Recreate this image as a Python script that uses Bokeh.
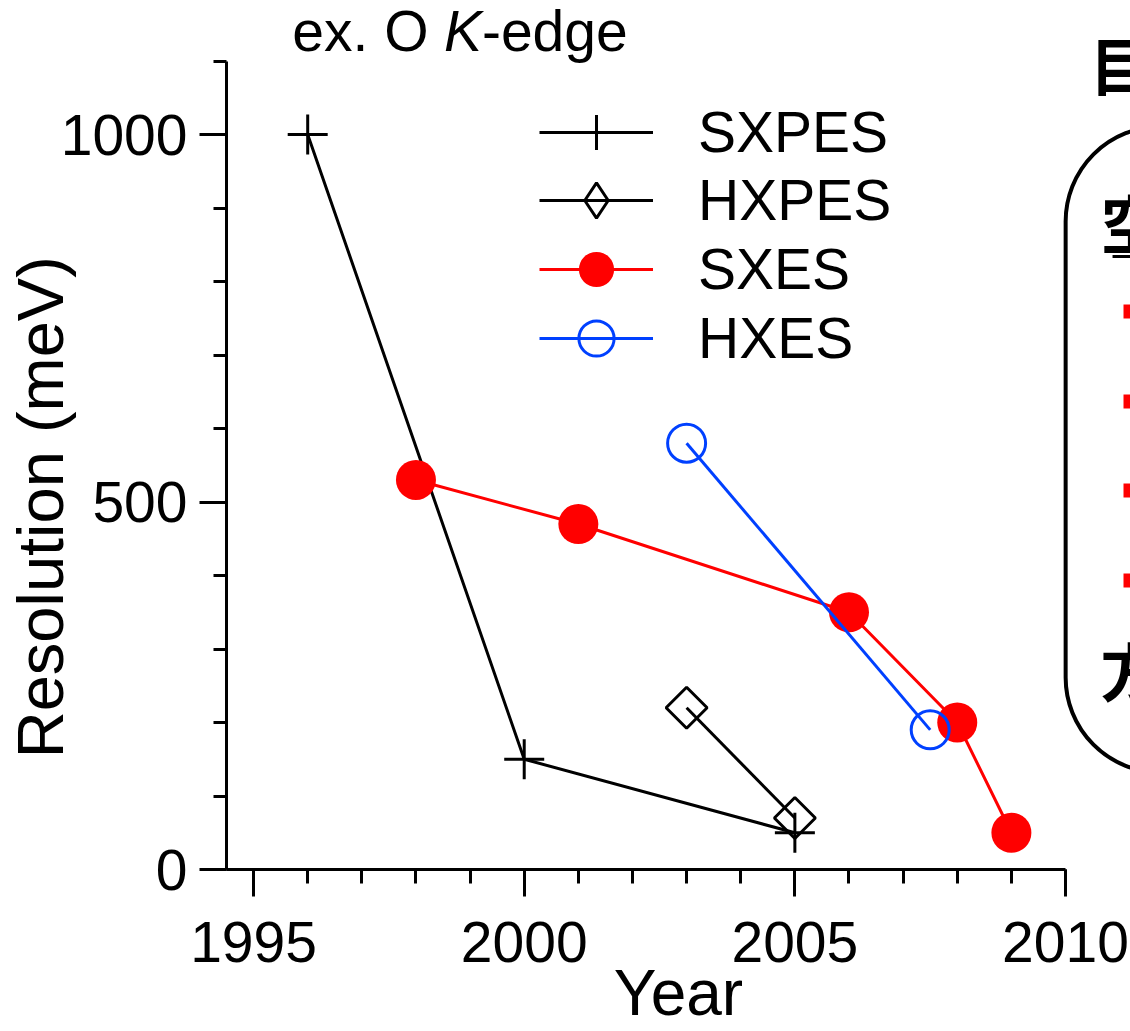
import math
from bokeh.plotting import figure
from bokeh.models import FixedTicker, Label, BoxAnnotation, Legend
from bokeh.embed import file_html
from bokeh.resources import INLINE

# ---- data ----
sxpes_year = [1996, 2000, 2005]
sxpes_res = [1000, 150, 50]
hxpes_year = [2003, 2005]
hxpes_res = [220, 70]
sxes_year = [1998, 2001, 2006, 2008, 2009]
sxes_res = [530, 470, 350, 200, 50]
hxes_year = [2003, 2007.5]
hxes_res = [580, 190]

x_major = [1995, 2000, 2005, 2010]
x_minor = list(range(1995, 2011))
y_major = [0, 500, 1000]
y_minor = list(range(0, 1101, 100))

# ---- layout (pixel geometry of the frame) ----
FL, FW, FH, FB = 224, 906, 869, 162
X0, X1 = 1994.5, 1994.5 + 906 / 54.25
Y0, Y1 = 0, 869 / 0.735

def dx(px):
    return X0 + (px - FL) / 54.25

def dy(py):
    return (FH - py) / 0.735

FONT = "Liberation Sans"
NBSP = "\u00a0"

p = figure(width=FL + FW, height=FH + FB, x_range=(X0, X1), y_range=(Y0, Y1),
           output_backend="svg", toolbar_location=None, title_location=None,
           min_border_left=FL, min_border_right=0, min_border_top=0,
           min_border_bottom=FB)
p.outline_line_color = None
p.grid.visible = False
p.background_fill_color = "white"
p.border_fill_color = "white"

for ax in (p.xaxis[0], p.yaxis[0]):
    ax.axis_line_width = 3
    ax.axis_line_color = "black"
    ax.major_tick_line_width = 3
    ax.minor_tick_line_width = 3
    ax.major_tick_in = 0
    ax.major_tick_out = 27
    ax.minor_tick_in = 0
    ax.minor_tick_out = 14
    ax.major_label_text_font = FONT
    ax.major_label_text_font_size = "57px"
    ax.major_label_text_color = "black"
    ax.axis_label_text_font = FONT
    ax.axis_label_text_font_style = "normal"
    ax.axis_label_text_color = "black"

p.xaxis[0].ticker = FixedTicker(ticks=x_major, minor_ticks=x_minor)
p.xaxis[0].bounds = (X0, 2010)
p.xaxis[0].major_label_standoff = 25
p.xaxis[0].axis_label = "Year"
p.xaxis[0].axis_label_text_font_size = "64px"
p.xaxis[0].axis_label_standoff = -8

p.yaxis[0].ticker = FixedTicker(ticks=y_major, minor_ticks=y_minor)
p.yaxis[0].bounds = (0, 1100)
p.yaxis[0].major_label_standoff = 12
p.yaxis[0].minor_tick_out = 13
p.yaxis[0].axis_label = "Resolution (meV)" + NBSP * 8
p.yaxis[0].axis_label_text_font_size = "65px"
p.yaxis[0].axis_label_standoff = -19

# ---- series ----
r1 = p.line(sxpes_year, sxpes_res, line_color="black", line_width=3)
m1 = p.scatter(sxpes_year, sxpes_res, marker="cross", size=40, line_color="black", line_width=3)
r2 = p.line(hxpes_year, hxpes_res, line_color="black", line_width=3)
m2 = p.scatter(hxpes_year, hxpes_res, marker="square", angle=math.pi / 4, size=29,
               fill_color=None, line_color="black", line_width=3)
m2_key = p.scatter([float("nan")], [float("nan")], marker="diamond", size=40,
                   fill_color=None, line_color="black", line_width=3)
r3 = p.line(sxes_year, sxes_res, line_color="#ff0000", line_width=3)
m3 = p.scatter(sxes_year, sxes_res, marker="circle", size=40, fill_color="#ff0000", line_color=None)
r4 = p.line(hxes_year, hxes_res, line_color="#0040ff", line_width=3)
m4 = p.scatter(hxes_year, hxes_res, marker="circle", size=38, fill_color=None,
               line_color="#0040ff", line_width=3)

legend_rows = [("SXPES", [r1, m1]), ("HXPES", [r2, m2_key]),
               ("SXES", [r3, m3]), ("HXES", [r4, m4])]
row_centers = [132, 200, 269, 338]
for (name, rends), c in zip(legend_rows, row_centers):
    lg = Legend(items=[(name, rends)], location=(313, FH - c - 44), orientation="vertical")
    lg.glyph_width = 114
    lg.glyph_height = 88
    lg.label_height = 88
    lg.spacing = 0
    lg.padding = 0
    lg.margin = 0
    lg.label_standoff = 45
    lg.border_line_color = None
    lg.background_fill_alpha = 0
    lg.label_text_font = FONT
    lg.label_text_font_size = "57px"
    lg.label_text_color = "black"
    p.add_layout(lg, "center")

# ---- texts ----
def lab(text, px, py, size, style="normal", align="left", base="alphabetic",
        font=FONT, color="black"):
    p.add_layout(Label(x=dx(px), y=dy(py), text=text, text_font=font,
                       text_font_size=size, text_font_style=style,
                       text_align=align, text_baseline=base, text_color=color))

lab("ex. O ", 290, 30, "57px")
lab("K", 442, 30, "57px", style="italic")
lab("-edge", 480, 30, "57px")

# ---- right-hand cropped panel ----
box = BoxAnnotation(left=dx(1065), right=dx(1300), top=dy(126), bottom=dy(772),
                    fill_color=None, line_color="black", line_alpha=1.0, line_width=4,
                    border_radius=95)
p.add_layout(box)
lab("目標", 1089, 62, "63px", style="bold", base="middle", font="Noto Sans CJK JP")
lab("空間", 1100, 220, "63px", style="bold", base="middle", font="Noto Sans CJK JP")
lab("方法", 1100, 668, "63px", style="bold", base="middle", font="Noto Sans CJK JP")
p.segment(x0=[dx(1112)], y0=[dy(256)], x1=[dx(1200)], y1=[dy(256)], line_color="black", line_width=3)
p.scatter(x=[dx(1130)] * 4, y=[dy(v) for v in (311, 401, 490, 580)], marker="square",
          size=14, fill_color="#ff0000", line_color=None)

open("out.html", "w").write(file_html(p, INLINE))
